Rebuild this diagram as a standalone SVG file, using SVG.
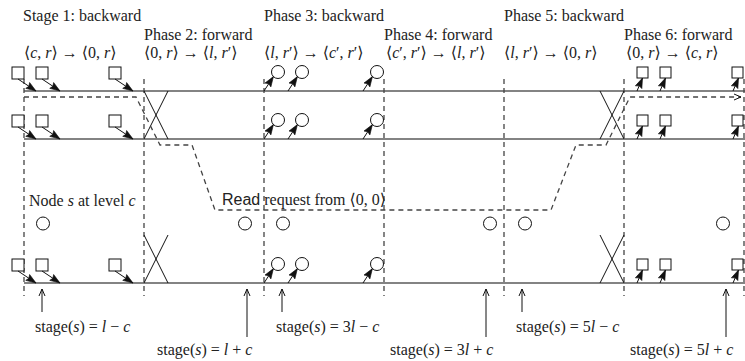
<svg xmlns="http://www.w3.org/2000/svg" width="745" height="361" viewBox="0 0 745 361">
<style>
text{font-family:"Liberation Serif","DejaVu Serif",serif;font-size:16px;fill:#222}
.i{font-style:italic}
.sans{font-family:"Liberation Sans",Arial,sans-serif}
.wire{stroke:#5a5a5a;stroke-width:1.6;fill:none}
.div{stroke:#444;stroke-width:1.3;stroke-dasharray:5 4;fill:none}
.req{stroke:#444;stroke-width:1.3;stroke-dasharray:5 4;fill:none}
.sq{fill:#fff;stroke:#111;stroke-width:1}
.ci{fill:#fff;stroke:#111;stroke-width:1}
.x{stroke:#111;stroke-width:1;fill:none}
.arr{stroke:#111;stroke-width:1;fill:none;marker-end:url(#fh)}
.up{stroke:#111;stroke-width:1;fill:none;marker-end:url(#oh)}
</style>
<defs>
<marker id="fh" markerUnits="userSpaceOnUse" markerWidth="14" markerHeight="10" refX="10" refY="3.5" orient="auto" overflow="visible">
<path d="M0,0 L10,3.5 L0,7 L1.5,3.5 z" fill="#111" stroke="#111" stroke-width="0.6"/>
</marker>
<marker id="oh" markerUnits="userSpaceOnUse" markerWidth="10" markerHeight="10" refX="7" refY="3" orient="auto" overflow="visible">
<path d="M0,0 L7,3 L0,6" fill="none" stroke="#111" stroke-width="1"/>
</marker>
</defs>

<g id="headers">
<text x="23" y="21">Stage 1: backward</text>
<text x="144" y="40">Phase 2: forward</text>
<text x="264" y="21">Phase 3: backward</text>
<text x="384" y="40">Phase 4: forward</text>
<text x="504" y="21">Phase 5: backward</text>
<text x="624" y="40">Phase 6: forward</text>
<text x="24" y="58">⟨<tspan class="i">c</tspan>, <tspan class="i">r</tspan>⟩ → ⟨0, <tspan class="i">r</tspan>⟩</text>
<text x="144" y="58">⟨0, <tspan class="i">r</tspan>⟩ → ⟨<tspan class="i">l</tspan>, <tspan class="i">r</tspan>′⟩</text>
<text x="264" y="58">⟨<tspan class="i">l</tspan>, <tspan class="i">r</tspan>′⟩ → ⟨<tspan class="i">c</tspan>′, <tspan class="i">r</tspan>′⟩</text>
<text x="386" y="58">⟨<tspan class="i">c</tspan>′, <tspan class="i">r</tspan>′⟩ → ⟨<tspan class="i">l</tspan>, <tspan class="i">r</tspan>′⟩</text>
<text x="504" y="58">⟨<tspan class="i">l</tspan>, <tspan class="i">r</tspan>′⟩ → ⟨0, <tspan class="i">r</tspan>⟩</text>
<text x="626" y="58">⟨0, <tspan class="i">r</tspan>⟩ → ⟨<tspan class="i">c</tspan>, <tspan class="i">r</tspan>⟩</text>
</g>

<g id="wires">
<line class="wire" x1="24" y1="91" x2="745" y2="91"/>
<line class="wire" x1="24" y1="139" x2="745" y2="139"/>
<line class="wire" x1="24" y1="283" x2="745" y2="283"/>
</g>

<g id="dividers">
<line class="div" x1="24" y1="79" x2="24" y2="296"/>
<line class="div" x1="144" y1="79" x2="144" y2="296"/>
<line class="div" x1="264" y1="79" x2="264" y2="296"/>
<line class="div" x1="384" y1="79" x2="384" y2="296"/>
<line class="div" x1="504" y1="79" x2="504" y2="296"/>
<line class="div" x1="624" y1="79" x2="624" y2="296"/>
<line class="div" x1="744" y1="79" x2="744" y2="296"/>
</g>

<g id="crossings">
<path class="x" d="M144,91 L168,139 M168,91 L144,139"/>
<path class="x" d="M144,235 L168,283 M168,235 L144,283"/>
<path class="x" d="M600,91 L624,139 M624,91 L600,139"/>
<path class="x" d="M600,235 L624,283 M624,235 L600,283"/>
</g>

<g id="stage1-nodes">
<rect class="sq" x="12" y="67" width="12" height="12"/>
<rect class="sq" x="36" y="67" width="12" height="12"/>
<rect class="sq" x="109" y="67" width="12" height="12"/>
<rect class="sq" x="12" y="115" width="12" height="12"/>
<rect class="sq" x="36" y="115" width="12" height="12"/>
<rect class="sq" x="109" y="115" width="12" height="12"/>
<rect class="sq" x="12" y="259" width="12" height="12"/>
<rect class="sq" x="36" y="259" width="12" height="12"/>
<rect class="sq" x="109" y="259" width="12" height="12"/>
</g>

<g id="phase3-nodes">
<circle class="ci" cx="278" cy="72" r="6.5"/>
<circle class="ci" cx="302" cy="72" r="6.5"/>
<circle class="ci" cx="377" cy="72" r="6.5"/>
<circle class="ci" cx="278" cy="120" r="6.5"/>
<circle class="ci" cx="302" cy="120" r="6.5"/>
<circle class="ci" cx="377" cy="120" r="6.5"/>
<circle class="ci" cx="278" cy="264" r="6.5"/>
<circle class="ci" cx="302" cy="264" r="6.5"/>
<circle class="ci" cx="377" cy="264" r="6.5"/>
</g>

<g id="phase6-nodes">
<rect class="sq" x="637" y="67" width="11" height="11"/>
<rect class="sq" x="660" y="67" width="11" height="11"/>
<rect class="sq" x="732" y="67" width="11" height="11"/>
<rect class="sq" x="637" y="115" width="11" height="11"/>
<rect class="sq" x="660" y="115" width="11" height="11"/>
<rect class="sq" x="732" y="115" width="11" height="11"/>
<rect class="sq" x="637" y="259" width="11" height="11"/>
<rect class="sq" x="660" y="259" width="11" height="11"/>
<rect class="sq" x="732" y="259" width="11" height="11"/>
</g>

<g id="node-s">
<text x="29" y="206">Node <tspan class="i">s</tspan> at level <tspan class="i">c</tspan></text>
<circle class="ci" cx="43" cy="223.5" r="6.5"/>
<circle class="ci" cx="245" cy="223.5" r="6.5"/>
<circle class="ci" cx="283" cy="223.5" r="6.5"/>
<circle class="ci" cx="490" cy="223.5" r="6.5"/>
<circle class="ci" cx="525" cy="223.5" r="6.5"/>
<circle class="ci" cx="723" cy="223.5" r="6.5"/>
</g>

<g id="connectors">
<line class="arr" x1="18" y1="79" x2="36" y2="91"/>
<line class="arr" x1="42" y1="79" x2="60" y2="91"/>
<line class="arr" x1="115" y1="79" x2="133" y2="91"/>
<line class="arr" x1="18" y1="127" x2="36" y2="139"/>
<line class="arr" x1="42" y1="127" x2="60" y2="139"/>
<line class="arr" x1="115" y1="127" x2="133" y2="139"/>
<line class="arr" x1="18" y1="271" x2="36" y2="283"/>
<line class="arr" x1="42" y1="271" x2="60" y2="283"/>
<line class="arr" x1="115" y1="271" x2="133" y2="283"/>

<line class="arr" x1="264" y1="91" x2="273.4" y2="76.6"/>
<line class="arr" x1="288" y1="91" x2="297.4" y2="76.6"/>
<line class="arr" x1="363" y1="91" x2="372.4" y2="76.6"/>
<line class="arr" x1="264" y1="139" x2="273.4" y2="124.6"/>
<line class="arr" x1="288" y1="139" x2="297.4" y2="124.6"/>
<line class="arr" x1="363" y1="139" x2="372.4" y2="124.6"/>
<line class="arr" x1="264" y1="283" x2="273.4" y2="268.6"/>
<line class="arr" x1="288" y1="283" x2="297.4" y2="268.6"/>
<line class="arr" x1="363" y1="283" x2="372.4" y2="268.6"/>

<line class="arr" x1="637" y1="91" x2="642.5" y2="78"/>
<line class="arr" x1="660" y1="91" x2="665.5" y2="78"/>
<line class="arr" x1="733" y1="91" x2="738.5" y2="78"/>
<line class="arr" x1="637" y1="139" x2="642.5" y2="126"/>
<line class="arr" x1="660" y1="139" x2="665.5" y2="126"/>
<line class="arr" x1="733" y1="139" x2="738.5" y2="126"/>
<line class="arr" x1="637" y1="283" x2="642.5" y2="270"/>
<line class="arr" x1="660" y1="283" x2="665.5" y2="270"/>
<line class="arr" x1="733" y1="283" x2="738.5" y2="270"/>

<path class="req" d="M24,97 H136 L160,145 H192 L215,210 H551 L576,145 H606 L630,97 H741" marker-end="url(#oh)"/>

<line class="up" x1="42" y1="312" x2="42" y2="289"/>
<line class="up" x1="247" y1="337" x2="247" y2="289"/>
<line class="up" x1="282" y1="312" x2="282" y2="289"/>
<line class="up" x1="486" y1="337" x2="486" y2="289"/>
<line class="up" x1="522" y1="312" x2="522" y2="289"/>
<line class="up" x1="726" y1="337" x2="726" y2="289"/>
</g>

<g id="request-label">
<text x="222" y="205"><tspan class="sans">Read</tspan> request from ⟨0, 0⟩</text>
</g>

<g id="stage-labels">
<text x="35" y="332">stage(<tspan class="i">s</tspan>) = <tspan class="i">l</tspan> − <tspan class="i">c</tspan></text>
<text x="157" y="355">stage(<tspan class="i">s</tspan>) = <tspan class="i">l</tspan> + <tspan class="i">c</tspan></text>
<text x="276" y="332">stage(<tspan class="i">s</tspan>) = 3<tspan class="i">l</tspan> − <tspan class="i">c</tspan></text>
<text x="390" y="355">stage(<tspan class="i">s</tspan>) = 3<tspan class="i">l</tspan> + <tspan class="i">c</tspan></text>
<text x="516" y="332">stage(<tspan class="i">s</tspan>) = 5<tspan class="i">l</tspan> − <tspan class="i">c</tspan></text>
<text x="630" y="355">stage(<tspan class="i">s</tspan>) = 5<tspan class="i">l</tspan> + <tspan class="i">c</tspan></text>
</g>
</svg>
